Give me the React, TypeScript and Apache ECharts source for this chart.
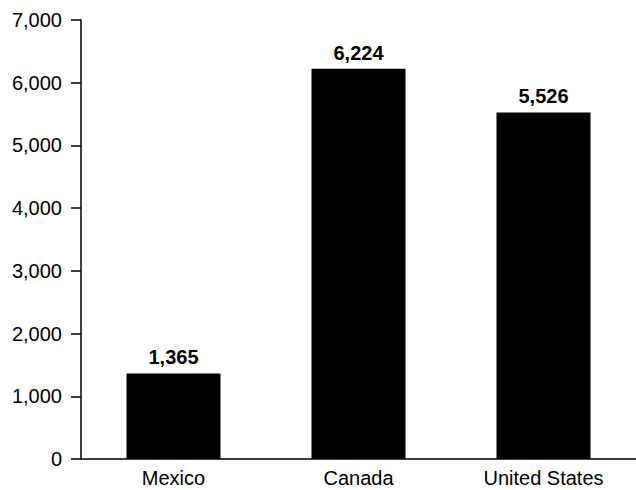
import React, { useEffect, useRef } from "react";
import * as echarts from "echarts";

const categories = ["Mexico", "Canada", "United States"];
const values = [1365, 6224, 5526];
const yMin = 0;
const yMax = 7000;
const yInterval = 1000;

export default function App() {
  const ref = useRef<HTMLDivElement>(null);
  useEffect(() => {
    document.body.style.margin = "0";
    if (!ref.current) return;
    const chart = echarts.init(ref.current, null, { renderer: "svg" });
    const font = "'Liberation Sans', Arial, Helvetica, sans-serif";
    chart.setOption({
      animation: false,
      backgroundColor: "#ffffff",
      grid: { left: 81, right: -3, top: 20, bottom: 31, containLabel: false },
      xAxis: {
        type: "category",
        data: categories,
        axisLine: { show: true, lineStyle: { color: "#000", width: 1.5 } },
        axisTick: { show: false },
        axisLabel: { color: "#000", fontSize: 20, fontFamily: font, margin: 9 },
        splitLine: { show: false },
      },
      yAxis: {
        type: "value",
        min: yMin,
        max: yMax,
        interval: yInterval,
        axisLine: { show: true, lineStyle: { color: "#000", width: 1.5 } },
        axisTick: { show: true, length: 10, lineStyle: { color: "#000", width: 1.5 } },
        axisLabel: {
          color: "#000",
          fontSize: 20,
          fontFamily: font,
          margin: 19,
          formatter: (v: number) => v.toLocaleString("en-US"),
        },
        splitLine: { show: false },
      },
      series: [
        {
          type: "bar",
          data: values,
          barWidth: 94,
          itemStyle: { color: "#000" },
          label: {
            show: true,
            position: "top",
            distance: 6,
            color: "#000",
            fontSize: 20,
            fontWeight: "bold",
            fontFamily: font,
            formatter: (p: any) => Number(p.value).toLocaleString("en-US"),
          },
        },
      ],
    });
    return () => chart.dispose();
  }, []);
  return <div ref={ref} style={{ width: 636, height: 490 }} />;
}
